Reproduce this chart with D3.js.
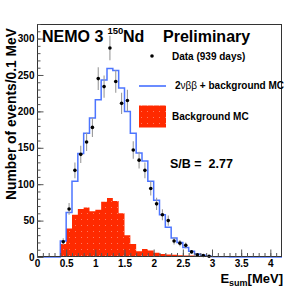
<!DOCTYPE html>
<html><head><meta charset="utf-8">
<script src="https://cdn.jsdelivr.net/npm/d3@7"></script>
<style>
html,body{margin:0;padding:0;background:#fff;}
svg text{font-family:"Liberation Sans",Arial,Helvetica,sans-serif;font-weight:bold;}
</style></head>
<body>
<svg id="c" width="306" height="291"></svg>
<script>
// ---- data ----
const binWidth = 0.1;
const histStart = 0.4;             // first non-empty bin lower edge (MeV)
// Background MC, bins from 0.4 MeV upward (events / 0.1 MeV)
const bgMC = [18, 39, 58, 66, 68, 63, 65, 76, 81, 77, 60, 30, 18, 8, 11, 9, 6, 4, 3.5, 3, 2.5, 2, 2, 1.5, 1, 1, 0.8, 0.6, 0.5, 0.5, 0.4, 0.4, 0.4, 0.3, 0.3, 0.3, 0.3, 0.3];
// 2nubb + background MC, bins from 0.4 MeV upward
const totalMC = [22, 61, 104, 142, 170, 191, 216, 243, 259, 256, 232, 200, 170, 143, 132, 104, 78, 58, 41, 26, 20, 13, 8, 4, 2.5, 1, 0.5, 0.3, 0.2, 0, 0, 0, 0, 0, 0, 0, 0, 0];
// Data (939 days), bin centres from 0.45 MeV
const dataStart = 0.45;
const dataCounts = [21, 66, 119, 141, 158, 178, 245, 234, 287, 241, 211, 215, 147, 133, 119, 94, 73, 58, 50, 22, 19, 16, 7, 3, 2, 1];
const xTicks = [0, 0.5, 1, 1.5, 2, 2.5, 3, 3.5, 4];
const xTickLabels = ["0", "0.5", "1", "1.5", "2", "2.5", "3", "3.5", "4"];
const yTicks = [0, 50, 100, 150, 200, 250, 300];

// ---- layout ----
const L = 37, T = 24, R = 282, B = 257;
const svg = d3.select("#c");
const x = d3.scaleLinear().domain([0, 4.2]).range([L, R]);
const y = d3.scaleLinear().domain([0, 320]).range([B, T]);

// pattern for background MC fill
const defs = svg.append("defs");
const pat = defs.append("pattern").attr("id", "dots").attr("patternUnits", "userSpaceOnUse")
  .attr("width", 6).attr("height", 6);
pat.append("rect").attr("width", 6).attr("height", 6).attr("fill", "#ff2a00");
pat.append("rect").attr("x", 3).attr("y", 3).attr("width", 1).attr("height", 1).attr("fill", "#ff7a60");

function stepPoints(vals, start) {
  const pts = [[start, 0]];
  vals.forEach((v, i) => {
    const x0 = start + i * binWidth, x1 = x0 + binWidth;
    pts.push([x0, v]); pts.push([x1, v]);
  });
  pts.push([start + vals.length * binWidth, 0]);
  return pts;
}
const line = d3.line().x(d => x(d[0])).y(d => y(d[1]));

// background MC fill
const bgPts = stepPoints(bgMC, histStart);
svg.append("path").attr("d", line(bgPts) + "Z").attr("fill", "url(#dots)").attr("stroke", "none");
// baseline red line over whole range
svg.append("line").attr("x1", x(0)).attr("x2", x(4.2)).attr("y1", y(0) - 0.5).attr("y2", y(0) - 0.5)
  .attr("stroke", "#ff2a00").attr("stroke-width", 1);

// total MC line
const totPts = [[0, 0]].concat(stepPoints(totalMC, histStart)).concat([[4.2, 0]]);
svg.append("path").attr("d", line(totPts)).attr("fill", "none")
  .attr("stroke", "#3a66ff").attr("stroke-width", 1.5).attr("opacity", 0.9);

// data points with error bars
const dg = svg.append("g");
dataCounts.forEach((v, i) => {
  const cx = x(dataStart + i * binWidth);
  const e = Math.sqrt(v);
  dg.append("line").attr("x1", cx).attr("x2", cx).attr("y1", y(v - e)).attr("y2", y(v + e))
    .attr("stroke", "#9a9a9a").attr("stroke-width", 1.1);
  dg.append("circle").attr("cx", cx).attr("cy", y(v)).attr("r", 1.8).attr("fill", "#000");
});

// frame
svg.append("rect").attr("x", L + 0.5).attr("y", T + 0.5).attr("width", R - L - 1).attr("height", B - T - 1)
  .attr("fill", "none").attr("stroke", "#333").attr("stroke-width", 1);

// axes
const yAxis = d3.axisLeft(y).tickValues(yTicks).tickSize(-6).tickPadding(3).tickFormat(d3.format("d"));
const yMinor = d3.axisLeft(y).tickValues(d3.range(0, 321, 10)).tickSize(-3).tickFormat("");
const xAxis = d3.axisBottom(x).tickValues(xTicks).tickSize(-7).tickPadding(3)
  .tickFormat((d, i) => xTickLabels[i]);
const xMinor = d3.axisBottom(x).tickValues(d3.range(0, 42).map(i => i / 10)).tickSize(-3.5).tickFormat("");

function styleAxis(g) {
  g.select(".domain").remove();
  g.selectAll(".tick line").attr("stroke", "#555");
  g.selectAll("text").attr("font-size", 10).attr("fill", "#000")
    .style("font-family", "'Liberation Sans',Arial,sans-serif").style("font-weight", "bold");
}
svg.append("g").attr("transform", `translate(${L + 0.5},0)`).call(yMinor).call(styleAxis);
svg.append("g").attr("transform", `translate(${L + 0.5},0)`).call(yAxis).call(styleAxis);
svg.append("g").attr("transform", `translate(0,${B - 0.5})`).call(xMinor).call(styleAxis);
svg.append("g").attr("transform", `translate(0,${B - 0.5})`).call(xAxis).call(styleAxis);

// axis titles
svg.append("text").attr("transform", "translate(15.5,114) rotate(-90)").attr("text-anchor", "middle")
  .attr("font-size", 13.8).text("Number of events/0.1 MeV");
const xt = svg.append("text").attr("x", 283).attr("y", 283).attr("text-anchor", "end").attr("font-size", 13);
xt.append("tspan").text("E");
xt.append("tspan").attr("font-size", 9).attr("dy", 3).text("sum");
xt.append("tspan").attr("dy", -3).text("[MeV]");

// title
svg.append("text").attr("x", 42).attr("y", 41.5).attr("font-size", 16).text("NEMO 3");
svg.append("text").attr("x", 107.5).attr("y", 33.5).attr("font-size", 9.5).text("150");
svg.append("text").attr("x", 123).attr("y", 41.5).attr("font-size", 16).text("Nd");
svg.append("text").attr("x", 163).attr("y", 41.5).attr("font-size", 16).text("Preliminary");

// legend
svg.append("circle").attr("cx", 152).attr("cy", 56).attr("r", 1.8).attr("fill", "#000");
svg.append("text").attr("x", 172).attr("y", 59.5).attr("font-size", 10).text("Data (939 days)");
svg.append("line").attr("x1", 139).attr("x2", 166).attr("y1", 86).attr("y2", 86)
  .attr("stroke", "#3a66ff").attr("stroke-width", 1.5);
const lt = svg.append("text").attr("x", 175).attr("y", 89).attr("font-size", 10);
lt.append("tspan").text("2");
lt.append("tspan").style("font-weight", "normal").text("νββ");
lt.append("tspan").text(" + background MC");
svg.append("rect").attr("x", 139).attr("y", 105.5).attr("width", 27).attr("height", 22).attr("fill", "url(#dots)");
svg.append("text").attr("x", 172).attr("y", 119.5).attr("font-size", 10).text("Background MC");
svg.append("text").attr("x", 170).attr("y", 168.3).attr("font-size", 12.5).attr("xml:space", "preserve")
  .style("white-space", "pre").text("S/B =  2.77");
</script>
</body></html>
